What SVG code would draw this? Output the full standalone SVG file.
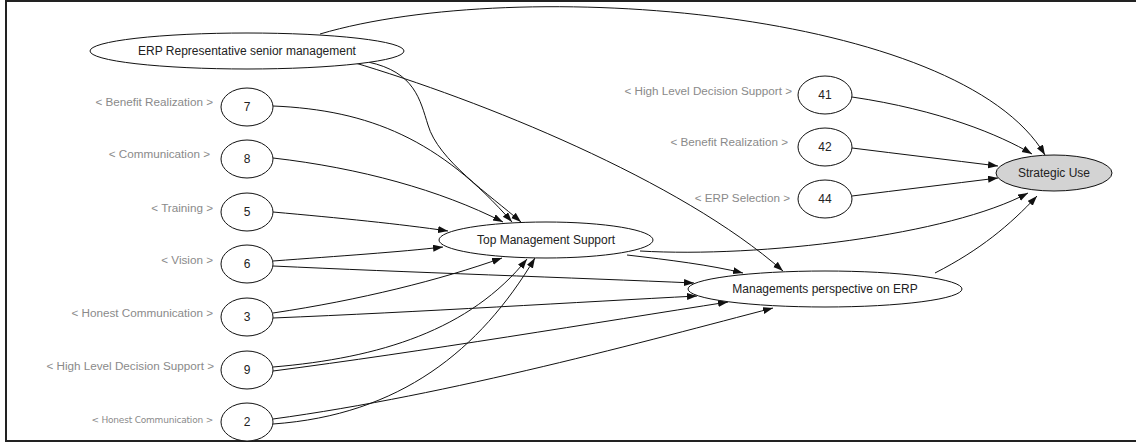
<svg xmlns="http://www.w3.org/2000/svg" width="1136" height="444" viewBox="0 0 1136 444">
  <style>
    .node ellipse { fill: #ffffff; stroke: #111; stroke-width: 1; }
    .node text { font-family: "Liberation Sans", Arial, sans-serif; font-size: 12px; fill: #222; text-anchor: middle; }
    .lbl { font-family: "Liberation Sans", Arial, sans-serif; font-size: 11.7px; fill: #8a8a8a; text-anchor: end; }
    .lbl-small { font-family: "DejaVu Sans", sans-serif; font-size: 9px; fill: #8a8a8a; text-anchor: end; letter-spacing: -0.2px; }
    #edges path { fill: none; stroke: #111; stroke-width: 1; marker-end: url(#arrow); }
    .frame { fill: none; stroke: #222; stroke-width: 2; }
  </style>
  <defs>
    <marker id="arrow" markerUnits="userSpaceOnUse" markerWidth="11" markerHeight="8" refX="10" refY="3.5" orient="auto">
      <path d="M0,0 L10,3.5 L0,7 z" fill="#111"/>
    </marker>
  </defs>

  <rect width="1136" height="444" fill="#ffffff"/>
  <path class="frame" d="M1136,1 H6 V441 H1136"/>

  <!-- connectors -->
  <g id="edges">
    <path d="M320,34 C520,-25 960,10 1045,155"/>
    <path d="M368,62 C415,72 420,100 428,125 C438,160 490,195 521,222"/>
    <path d="M352,62 C480,100 680,180 783,271"/>
    <path d="M273,106 C370,110 440,140 512,222"/>
    <path d="M273,158 C360,168 440,190 503,222"/>
    <path d="M273,212 C340,218 400,224 448,231"/>
    <path d="M273,261 C340,256 400,252 443,247"/>
    <path d="M273,266 C400,272 580,278 694,283"/>
    <path d="M273,313 C360,300 440,280 502,258"/>
    <path d="M273,318 C420,312 580,302 697,296"/>
    <path d="M273,367 C380,358 470,330 527,259"/>
    <path d="M273,371 C420,352 600,322 728,302"/>
    <path d="M273,424 C400,415 480,350 535,258"/>
    <path d="M273,419 C450,395 650,340 773,308"/>
    <path d="M627,255 C670,260 710,265 743,273"/>
    <path d="M640,251 C760,258 950,235 1028,193"/>
    <path d="M935,273 C980,250 1010,225 1037,196"/>
    <path d="M852,97 C940,110 1000,135 1032,154"/>
    <path d="M852,148 C900,154 950,160 998,166"/>
    <path d="M852,196 C900,190 950,184 998,178"/>
  </g>

  <!-- factor labels -->
  <g id="labels">
    <text class="lbl" x="213" y="106">&lt; Benefit Realization &gt;</text>
    <text class="lbl" x="210" y="158">&lt; Communication &gt;</text>
    <text class="lbl" x="213" y="212">&lt; Training &gt;</text>
    <text class="lbl" x="213" y="264">&lt; Vision &gt;</text>
    <text class="lbl" x="213" y="317">&lt; Honest Communication &gt;</text>
    <text class="lbl" x="214" y="370">&lt; High Level Decision Support &gt;</text>
    <text class="lbl-small" x="213" y="423">&lt; Honest Communication &gt;</text>
    <text class="lbl" x="792" y="95">&lt; High Level Decision Support &gt;</text>
    <text class="lbl" x="788" y="146">&lt; Benefit Realization &gt;</text>
    <text class="lbl" x="790" y="202">&lt; ERP Selection &gt;</text>
  </g>

  <g id="n-erp-rep" class="node">
    <ellipse cx="247" cy="51" rx="157" ry="18"/>
    <text x="247" y="55">ERP Representative senior management</text>
  </g>
  <g id="n7" class="node">
    <ellipse cx="247" cy="107" rx="26" ry="19"/>
    <text x="247" y="111">7</text>
  </g>
  <g id="n8" class="node">
    <ellipse cx="247" cy="159" rx="26" ry="19"/>
    <text x="247" y="163">8</text>
  </g>
  <g id="n5" class="node">
    <ellipse cx="247" cy="212" rx="26" ry="19"/>
    <text x="247" y="216">5</text>
  </g>
  <g id="n6" class="node">
    <ellipse cx="247" cy="264" rx="26" ry="19"/>
    <text x="247" y="268">6</text>
  </g>
  <g id="n3" class="node">
    <ellipse cx="247" cy="317" rx="26" ry="19"/>
    <text x="247" y="321">3</text>
  </g>
  <g id="n9" class="node">
    <ellipse cx="247" cy="370" rx="26" ry="19"/>
    <text x="247" y="374">9</text>
  </g>
  <g id="n2" class="node">
    <ellipse cx="247" cy="422" rx="26" ry="19"/>
    <text x="247" y="426">2</text>
  </g>
  <g id="n-tms" class="node">
    <ellipse cx="546" cy="240" rx="107" ry="18"/>
    <text x="546" y="244">Top Management Support</text>
  </g>
  <g id="n-mpe" class="node">
    <ellipse cx="825" cy="289" rx="137" ry="18"/>
    <text x="825" y="293">Managements perspective on ERP</text>
  </g>
  <g id="n41" class="node">
    <ellipse cx="825" cy="95" rx="27" ry="19"/>
    <text x="825" y="99">41</text>
  </g>
  <g id="n42" class="node">
    <ellipse cx="825" cy="147" rx="27" ry="19"/>
    <text x="825" y="151">42</text>
  </g>
  <g id="n44" class="node">
    <ellipse cx="825" cy="199" rx="27" ry="19"/>
    <text x="825" y="203">44</text>
  </g>
  <g id="n-su" class="node">
    <ellipse cx="1054" cy="173" rx="58" ry="18" style="fill:#d3d3d3"/>
    <text x="1054" y="177">Strategic Use</text>
  </g>
</svg>
